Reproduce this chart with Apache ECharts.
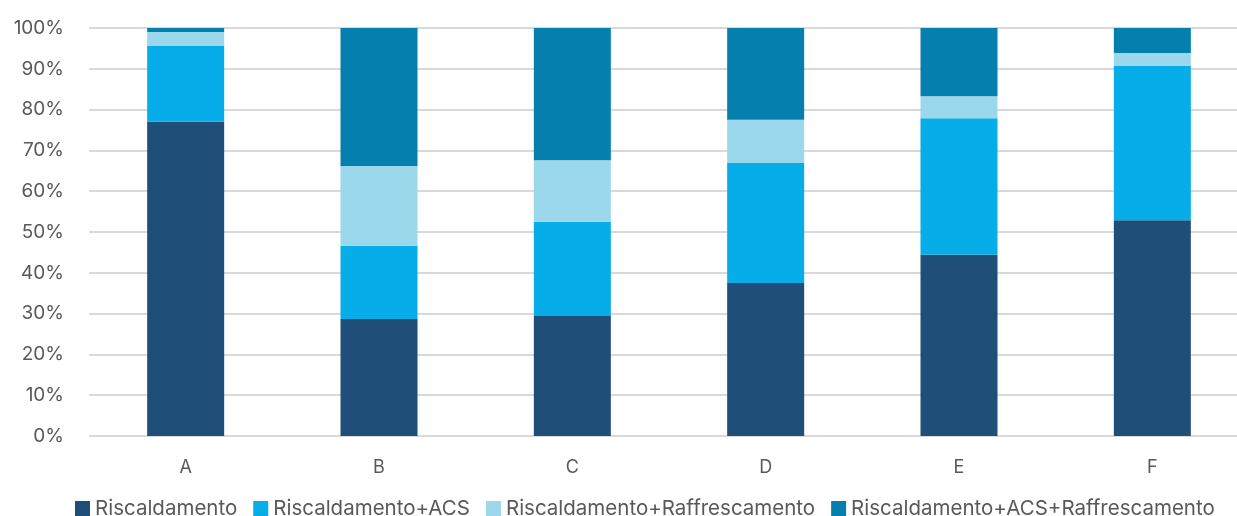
<!DOCTYPE html>
<html><head><meta charset="utf-8">
<script src="https://cdn.jsdelivr.net/npm/echarts@6/dist/echarts.min.js"></script>
<style>html,body{margin:0;padding:0;background:#fff;overflow:hidden}#c{width:1250px;height:516px}</style>
</head><body><div id="c"></div>
<script>
const categories = ['A','B','C','D','E','F'];
const riscaldamento = [77.0, 28.7, 29.4, 37.5, 44.4, 52.9];
const riscACS = [18.6, 17.9, 23.1, 29.4, 33.5, 37.8];
const riscRaff = [3.4, 19.6, 15.1, 10.6, 5.4, 3.2];
const riscACSRaff = [1.0, 33.8, 32.4, 22.5, 16.7, 6.1];
const seriesNames = ['Riscaldamento','Riscaldamento+ACS','Riscaldamento+Raffrescamento','Riscaldamento+ACS+Raffrescamento'];
const colors = ['#1F4E78','#07ADE8','#9CD8EC','#057FAD'];
const dataSets = [riscaldamento, riscACS, riscRaff, riscACSRaff];
const font = 'Inter, "Noto Sans", sans-serif';
const chart = echarts.init(document.getElementById('c'));
chart.setOption({
  animation:false,
  color: colors,
  grid:{left:89, top:28, right:1, bottom:80, containLabel:false},
  legend:{top:493, left:70, itemWidth:15, itemHeight:15, itemGap:16,
    icon:'rect',
    textStyle:{fontFamily:font, fontSize:20.5, color:'#595959'},
    data: seriesNames},
  xAxis:{type:'category', data:categories,
    axisLine:{show:false}, axisTick:{show:false},
    axisLabel:{fontFamily:font, fontSize:18, color:'#595959', margin:23}},
  yAxis:{type:'value', min:0, max:100, interval:10,
    axisLabel:{formatter:'{value}%', fontFamily:font, fontSize:19, color:'#595959', margin:25},
    splitLine:{lineStyle:{color:'#d9d9d9', width:2}},
    axisLine:{show:false}, axisTick:{show:false}},
  series: seriesNames.map((n,i)=>({name:n, type:'bar', stack:'s', barWidth:77, data:dataSets[i]}))
});
</script></body></html>
